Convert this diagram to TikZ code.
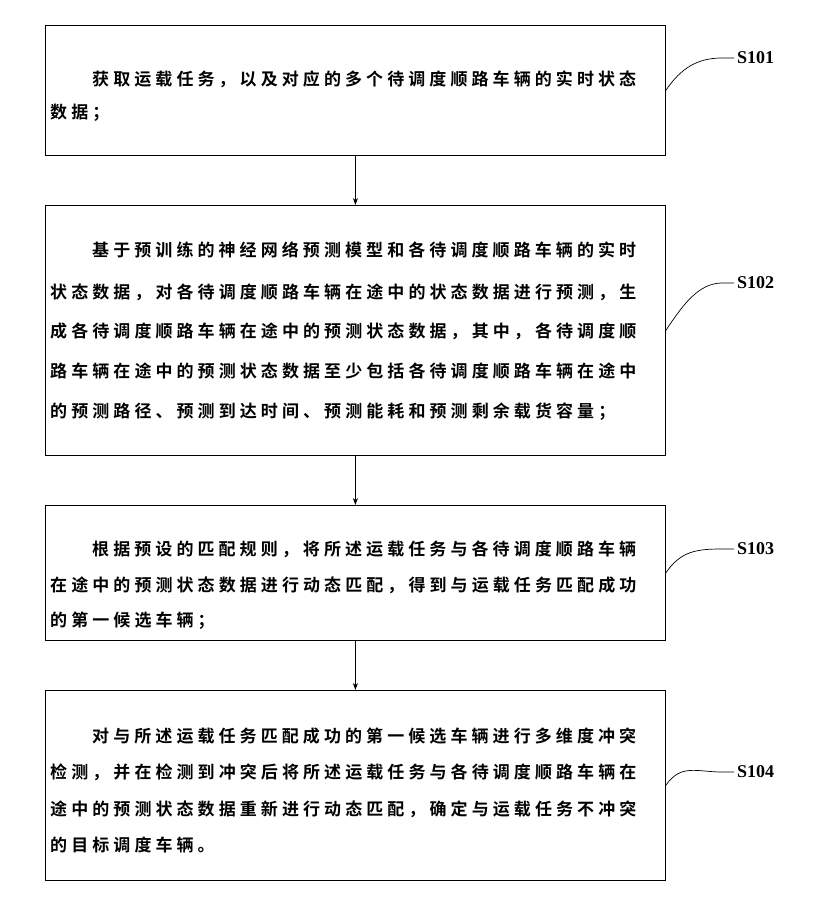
\documentclass[tikz,border=0pt]{standalone}
\usepackage{fontspec}
\usetikzlibrary{arrows.meta}
\newfontfamily\cjkb[LetterSpace=24]{Noto Sans CJK SC Bold}
\setmainfont{Liberation Serif}
\begin{document}
\begin{tikzpicture}[x=1pt,y=-1pt,
  box/.style={draw,line width=0.8pt},
  ln/.style={anchor=west,inner sep=0pt,font=\cjkb\fontsize{17}{17}\selectfont},
  lab/.style={font=\bfseries\fontsize{18}{18}\selectfont,anchor=west,inner sep=0pt},
  arr/.style={-{Stealth[length=7pt,width=5pt]},line width=0.7pt}]
\useasboundingbox (0,0) rectangle (827,915);
\node[box,minimum width=620,minimum height=130,anchor=north west] (b1) at (45,25) {};
\node[box,minimum width=620,minimum height=250,anchor=north west] (b2) at (45,205) {};
\node[box,minimum width=620,minimum height=135,anchor=north west] (b3) at (45,505) {};
\node[box,minimum width=620,minimum height=190,anchor=north west] (b4) at (45,690) {};
\draw[arr] (b1.south) -- (b2.north);
\draw[arr] (b2.south) -- (b3.north);
\draw[arr] (b3.south) -- (b4.north);
% box1
\node[ln] (t11) at (92,79) {获取运载任务，以及对应的多个待调度顺路车辆的实时状态};
\node[ln] (t12) at (50,113) {数据；};
% box2
\node[ln] (t21) at (92,250) {基于预训练的神经网络预测模型和各待调度顺路车辆的实时};
\node[ln] (t22) at (50,292) {状态数据，对各待调度顺路车辆在途中的状态数据进行预测，生};
\node[ln] (t23) at (50,331) {成各待调度顺路车辆在途中的预测状态数据，其中，各待调度顺};
\node[ln] (t24) at (50,371) {路车辆在途中的预测状态数据至少包括各待调度顺路车辆在途中};
\node[ln] (t25) at (50,412) {的预测路径、预测到达时间、预测能耗和预测剩余载货容量；};
% box3
\node[ln] (t31) at (92,549) {根据预设的匹配规则，将所述运载任务与各待调度顺路车辆};
\node[ln] (t32) at (50,585) {在途中的预测状态数据进行动态匹配，得到与运载任务匹配成功};
\node[ln] (t33) at (50,621) {的第一候选车辆；};
% box4
\node[ln] (t41) at (92,736) {对与所述运载任务匹配成功的第一候选车辆进行多维度冲突};
\node[ln] (t42) at (50,772) {检测，并在检测到冲突后将所述运载任务与各待调度顺路车辆在};
\node[ln] (t43) at (50,809) {途中的预测状态数据重新进行动态匹配，确定与运载任务不冲突};
\node[ln] (t44) at (50,845) {的目标调度车辆。};
% labels
\node[lab] (s1) at (737,58) {S101};
\node[lab] (s2) at (737,283) {S102};
\node[lab] (s3) at (737,549) {S103};
\node[lab] (s4) at (737,772) {S104};
\foreach \b/\s in {b1/s1,b2/s2,b3/s3,b4/s4}{
  \draw[line width=0.7pt] (\b.east) .. controls +(15,-22) and +(-25,0) .. ([xshift=-15pt]\s.west) -- ([xshift=-3pt]\s.west);
}
\end{tikzpicture}
\end{document}
